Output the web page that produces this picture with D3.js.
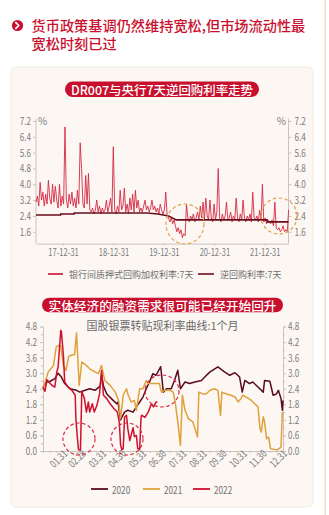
<!DOCTYPE html>
<html><head><meta charset="utf-8">
<script src="https://cdn.jsdelivr.net/npm/d3@7"></script>
<style>
html,body{margin:0;padding:0;background:#fff;}
svg{display:block;}
text{font-family:"Noto Sans CJK SC","Noto Sans",sans-serif;}
</style></head>
<body>
<svg id="c" width="329" height="515"></svg>
<script>
// ---------- DATA ----------
const headline = ["货币政策基调仍然维持宽松,但市场流动性最", "宽松时刻已过"];
const title1 = "DR007与央行7天逆回购利率走势";
const title2 = "实体经济的融资需求很可能已经开始回升";
const subtitle2 = "国股银票转贴现利率曲线:1个月";

// Chart 1: DR007, one reading every 10 days starting 2017-06-18
const drStart = "2017-06-18";
const drStepDays = 10;
const dr007 = [3.1,3.4,2.9,4.1,3.2,3.6,2.9,3.5,3.0,4.2,3.3,3.0,4.0,3.1,3.9,3.2,2.8,4.0,
  2.9,3.4,3.0,6.9,
  3.2,2.8,3.5,3.0,3.6,2.9,3.3,2.8,3.7,3.0,
  6.1,4.8,3.0,2.8,4.45,3.0,4.55,2.7,
  2.6,2.8,2.5,2.7,3.2,2.6,2.9,2.5,2.8,2.6,2.7,3.2,2.6,2.9,3.3,2.6,
  5.9,
  2.7,2.5,2.9,2.6,3.7,2.7,2.9,3.8,2.6,3.0,2.5,3.3,2.7,3.5,2.6,3.7,2.8,3.2,2.6,
  2.8,2.6,2.9,3.2,2.7,2.9,2.6,2.8,3.2,2.7,2.9,2.6,2.8,2.5,3.0,2.7,2.5,
  2.7,3.6,2.4,
  2.3,2.1,2.3,2.0,2.2,
  1.9,1.6,1.8,1.5,1.7,1.3,1.5,1.4,
  3.0,
  2.3,2.1,2.4,2.2,2.5,2.1,2.3,2.6,2.2,2.9,2.3,3.1,
  2.2,3.3,2.4,2.2,3.2,2.3,2.1,3.0,2.2,2.6,
  4.8,
  2.3,2.1,2.5,2.2,2.4,3.1,2.2,2.3,2.6,2.1,2.4,2.2,3.3,
  2.3,2.1,2.5,2.2,3.2,2.3,2.1,2.4,2.2,2.5,2.1,3.6,2.3,2.2,2.4,2.1,2.7,
  2.2,4.0,2.1,
  2.3,2.0,2.2,2.1,2.0,2.2,
  1.9,3.1,1.8,
  1.7,1.8,1.6,1.7,1.9,1.6,1.7,1.6,
  2.7];
const repoDates = ["2017-06-18","2017-12-13","2017-12-14","2018-03-21","2018-03-22","2019-09-01","2019-11-18","2020-02-03","2020-03-30","2022-01-16","2022-01-17","2022-06-21"];
const repoRates = [2.45,2.45,2.50,2.50,2.55,2.55,2.50,2.40,2.20,2.20,2.10,2.10];
const c1Domain = ["2017-06-18","2022-06-21"];
const c1XTicks = ["2017-12-31","2018-12-31","2019-12-31","2020-12-31","2021-12-31"];
const c1YTicks = [1.6,2.4,3.2,4.0,4.8,5.6,6.4,7.2];
const legend1 = ["银行间质押式回购加权利率:7天","逆回购利率:7天"];

// Chart 2: day of year / rate
const day2020 = [0,6,11,18,23,28,33,41,51,56,64,71,79,87,89,92,97,104,112,114,118,124,129,137,142,147,152,157,162,167,172,179,183,188,195,200,205,209,216,223,231,241,246,254,266,276,284,292,299,303,307,314,319,327,335,337,345,350,355,358,362,364,365];
const val2020 = [2.47,2.66,2.69,2.79,3.0,2.85,2.6,2.4,2.34,2.27,2.34,2.4,2.34,2.5,2.95,2.5,2.2,2.02,1.82,1.89,1.2,1.5,1.57,1.5,1.7,1.89,2.08,2.4,2.66,2.98,2.92,3.25,2.27,2.4,2.4,2.72,3.11,2.4,2.66,2.6,2.66,2.72,2.85,3.05,3.24,3.05,2.92,3.02,2.85,2.27,2.72,2.6,2.66,2.47,2.27,2.72,2.69,2.15,2.2,2.34,2.02,1.57,1.95];
const day2021 = [0,8,16,20,23,27,31,35,39,44,48,51,55,59,66,71,79,84,89,94,102,110,115,118,122,127,129,134,139,142,147,152,157,160,165,172,177,180,185,193,198,201,205,209,212,216,221,228,235,237,243,248,254,261,266,270,272,279,286,292,297,301,304,309,317,322,327,330,332,335,337,340,343,346,352,357,362,364];
const val2021 = [2.4,3.05,3.3,4.0,4.07,4.05,3.3,3.1,3.65,3.7,3.72,4.55,2.53,3.43,3.3,3.17,3.05,2.98,3.3,2.72,2.53,2.27,1.95,1.25,2.15,2.4,2.2,1.89,1.95,1.57,2.4,2.4,2.72,2.6,2.6,2.6,2.6,2.27,2.34,2.34,2.27,1.89,1.12,0.22,2.15,1.57,1.25,1.12,0.54,2.27,2.2,2.2,2.34,2.4,2.34,1.37,2.27,2.2,2.15,2.08,1.89,2.02,2.15,2.08,1.95,1.82,1.7,0.86,0.73,1.32,1.12,0.47,0.54,0.09,0.06,0.05,0.15,1.5];
const day2022 = [0,3,6,11,15,18,21,23,27,28,31,33,38,44,49,50,52,54,57,59,63,66,69,71,75,78,82,86,89,92,97,102,108,113,116,118,120,122,124,127,129,132,134,137,139,142,144,147,149,150,155,160,165,168,172,174];
const val2022 = [2.47,2.3,2.75,2.6,2.5,2.47,3.05,3.24,4.65,4.6,3.69,2.66,2.47,2.34,2.15,1.25,0.6,0.05,0.05,2.3,2.02,1.5,1.89,1.5,1.82,1.5,1.76,2.2,3.1,2.15,2.02,1.82,1.63,1.5,1.12,0.22,0.05,0.09,1.3,1.38,0.86,0.4,0.6,0.9,0.55,0.6,0.1,0.05,1.25,1.38,1.3,1.5,1.82,1.7,1.89,1.89];
const c2XTickDays = [31,59,90,120,151,181,212,243,273,304,334,365];
const c2XTickLabels = ["01.31","02.28","03.31","04.30","05.31","06.30","07.31","08.31","09.30","10.31","11.30","12.31"];
const c2YTicks = [0.0,0.6,1.2,1.8,2.4,3.0,3.6,4.2,4.8];
const years2 = ["2020","2021","2022"];

// ---------- DRAW ----------
const svg = d3.select("#c");
const RED = "#c8102e";
const parse = d3.timeParse("%Y-%m-%d");
function condense(sel, f){
  sel.each(function(){ const w=this.getComputedTextLength(); d3.select(this).attr("textLength", w*f).attr("lengthAdjust","spacingAndGlyphs"); });
}
function fitTo(sel, w){
  sel.each(function(){ d3.select(this).attr("textLength", w).attr("lengthAdjust","spacingAndGlyphs"); });
}

// right edge strip
svg.append("rect").attr("x",324.5).attr("y",0).attr("width",1.5).attr("height",515).attr("fill","#f3dcc2");

// header
svg.append("circle").attr("cx",17.5).attr("cy",25.5).attr("r",5.6).attr("fill",RED);
svg.append("path").attr("d","M15.8,22.6 L18.8,25.5 L15.8,28.4").attr("fill","none").attr("stroke","#fff").attr("stroke-width",1.7).attr("stroke-linecap","round").attr("stroke-linejoin","round");
svg.selectAll("text.head").data(headline).join("text").attr("class","head")
  .attr("x",31.5).attr("y",(d,i)=>30.5+i*18).attr("fill",RED)
  .attr("font-size",14.2).attr("font-weight",500).text(d=>d);

// panel
svg.append("rect").attr("x",11).attr("y",67).attr("width",302).attr("height",440).attr("rx",5)
  .attr("fill","#fcf7f3").attr("stroke","#f4e6d8").attr("stroke-width",0.8);

function pill(cx, cy, w, h, txt, fs, tw){
  svg.append("rect").attr("x",cx-w/2).attr("y",cy-h/2).attr("width",w).attr("height",h).attr("rx",h/2).attr("fill",RED);
  svg.append("text").attr("x",cx).attr("y",cy+0.5).attr("text-anchor","middle").attr("dominant-baseline","central")
    .attr("fill","#fff").attr("font-size",fs).attr("font-weight",500).text(txt).call(fitTo, tw);
}
pill(162, 89.2, 194, 15.5, title1, 12.5, 182);
pill(162.5, 305, 241, 14.5, title2, 12.5, 228);

// ---------- Chart 1 ----------
const x1 = d3.scaleTime().domain(c1Domain.map(parse)).range([36,288.5]);
const y1 = d3.scaleLinear().domain([1.0,7.2]).range([243.6,121]);
const g1 = svg.append("g");
function styleAxis(g){
  g.select(".domain").attr("stroke","#c9c4c0");
  g.selectAll(".tick line").attr("stroke","#c9c4c0");
  g.selectAll("text").attr("fill","#7d7d7d").attr("font-family","'Noto Sans',sans-serif");
}
const ax1L = g1.append("g").attr("transform","translate(36,0)")
  .call(d3.axisLeft(y1).tickValues(c1YTicks).tickFormat(d3.format(".1f")).tickSize(3).tickPadding(2).tickSizeOuter(0));
styleAxis(ax1L); ax1L.selectAll("text").attr("font-size",10.5).call(condense,0.78);
ax1L.select(".domain").attr("d","M0,118.5V243.6");
const ax1R = g1.append("g").attr("transform","translate(288.5,0)")
  .call(d3.axisRight(y1).tickValues(c1YTicks).tickFormat(d3.format(".1f")).tickSize(3).tickPadding(3).tickSizeOuter(0));
styleAxis(ax1R); ax1R.selectAll("text").attr("font-size",10.5).call(condense,0.78);
ax1R.select(".domain").attr("d","M0,118.5V243.6");
const ax1B = g1.append("g").attr("transform","translate(0,243.6)")
  .call(d3.axisBottom(x1).tickValues(c1XTicks.map(parse)).tickFormat(d3.timeFormat("%y-%m-%d")).tickSize(2).tickPadding(3).tickSizeOuter(0));
styleAxis(ax1B); ax1B.selectAll("text").attr("font-size",10.5).call(condense,0.72);
g1.append("text").attr("x",38).attr("y",125).attr("font-size",10).attr("fill","#7d7d7d").text("%");
g1.append("text").attr("x",286).attr("y",125).attr("text-anchor","end").attr("font-size",10).attr("fill","#7d7d7d").text("%");

const drData = dr007.map((v,i)=>({d:d3.timeDay.offset(parse(drStart), i*drStepDays), v}));
g1.append("path").datum(drData).attr("fill","none").attr("stroke","#d42a45").attr("stroke-width",0.9).attr("stroke-linejoin","round")
  .attr("d", d3.line().x(d=>x1(d.d)).y(d=>y1(d.v)));
const repoData = repoDates.map((d,i)=>({d:parse(d), v:repoRates[i]}));
g1.append("path").datum(repoData).attr("fill","none").attr("stroke","#6a0d1c").attr("stroke-width",1.6)
  .attr("d", d3.line().x(d=>x1(d.d)).y(d=>y1(d.v)));

// orange dashed circles
[[185,224,19,20],[279,216,18,18]].forEach(c=>{
  g1.append("ellipse").attr("cx",c[0]).attr("cy",c[1]).attr("rx",c[2]).attr("ry",c[3])
    .attr("fill","none").attr("stroke","#e2a346").attr("stroke-width",1.2).attr("stroke-dasharray","3.5,2.5");
});

// legend 1
g1.append("line").attr("x1",48).attr("x2",63).attr("y1",274).attr("y2",274).attr("stroke",RED).attr("stroke-width",1.6);
g1.append("text").attr("x",69).attr("y",274).attr("dominant-baseline","central").attr("font-size",9).attr("fill","#6f6f6f").text(legend1[0]);
g1.append("line").attr("x1",198).attr("x2",214).attr("y1",274).attr("y2",274).attr("stroke","#6a0d1c").attr("stroke-width",1.6);
g1.append("text").attr("x",220).attr("y",274).attr("dominant-baseline","central").attr("font-size",9).attr("fill","#6f6f6f").text(legend1[1]);

// ---------- Chart 2 ----------
svg.append("text").attr("x",162.5).attr("y",330).attr("text-anchor","middle").attr("font-size",11).attr("fill","#6a6a6a").text(subtitle2);
const x2 = d3.scaleLinear().domain([0,365]).range([43,283]);
const y2 = d3.scaleLinear().domain([0,4.8]).range([451,326.5]);
const g2 = svg.append("g");
const minor2 = d3.range(0,4.81,0.3);
const ax2Lm = g2.append("g").attr("transform","translate(43,0)").call(d3.axisLeft(y2).tickValues(minor2).tickFormat("").tickSize(2).tickSizeOuter(0));
styleAxis(ax2Lm);
const ax2L = g2.append("g").attr("transform","translate(43,0)")
  .call(d3.axisLeft(y2).tickValues(c2YTicks).tickFormat(d3.format(".1f")).tickSize(3).tickPadding(3).tickSizeOuter(0));
styleAxis(ax2L); ax2L.selectAll("text").attr("font-size",10.5).call(condense,0.78);
const ax2Rm = g2.append("g").attr("transform","translate(283,0)").call(d3.axisRight(y2).tickValues(minor2).tickFormat("").tickSize(2).tickSizeOuter(0));
styleAxis(ax2Rm);
const ax2R = g2.append("g").attr("transform","translate(283,0)")
  .call(d3.axisRight(y2).tickValues(c2YTicks).tickFormat(d3.format(".1f")).tickSize(3).tickPadding(2).tickSizeOuter(0));
styleAxis(ax2R); ax2R.selectAll("text").attr("font-size",10.5).call(condense,0.78);
const minorX = d3.range(0,366,365/36);
const ax2Bm = g2.append("g").attr("transform","translate(0,451)").call(d3.axisBottom(x2).tickValues(minorX).tickFormat("").tickSize(2).tickSizeOuter(0));
styleAxis(ax2Bm);
const ax2B = g2.append("g").attr("transform","translate(0,451)")
  .call(d3.axisBottom(x2).tickValues(c2XTickDays).tickFormat((d,i)=>c2XTickLabels[i]).tickSize(3).tickSizeOuter(0));
styleAxis(ax2B);
ax2B.selectAll(".tick text").attr("font-size",10.5).attr("text-anchor","end").attr("dy",0)
  .attr("transform","translate(-2,-3) rotate(-45)").attr("y",9).attr("x",0).call(condense,0.75);

const line2 = d3.line().x(d=>x2(d[0])).y(d=>y2(d[1]));
const series2 = [
  {days:day2020, vals:val2020, color:"#5a0b1c"},
  {days:day2021, vals:val2021, color:"#e0a03c"},
  {days:day2022, vals:val2022, color:"#d0102e"}
];
series2.forEach(s=>{
  g2.append("path").datum(s.days.map((d,i)=>[d,s.vals[i]])).attr("fill","none").attr("stroke",s.color)
    .attr("stroke-width",1.5).attr("stroke-linejoin","round").attr("d",line2);
});
// red dashed circles
[[79,439,16,16],[127,439,16,16],[162,391,17,16]].forEach(c=>{
  g2.append("ellipse").attr("cx",c[0]).attr("cy",c[1]).attr("rx",c[2]).attr("ry",c[3])
    .attr("fill","none").attr("stroke","#d9263f").attr("stroke-width",1.2).attr("stroke-dasharray","3.5,2.5");
});
// legend 2
const lg2x = [91,143,193];
years2.forEach((y,i)=>{
  g2.append("line").attr("x1",lg2x[i]).attr("x2",lg2x[i]+17).attr("y1",489).attr("y2",489).attr("stroke",series2[i].color).attr("stroke-width",1.8);
  g2.append("text").attr("x",lg2x[i]+21).attr("y",489).attr("dominant-baseline","central").attr("font-size",10.5)
    .attr("fill","#6f6f6f").attr("font-family","'Noto Sans',sans-serif").text(y).call(condense,0.78);
});
</script>
</body></html>
